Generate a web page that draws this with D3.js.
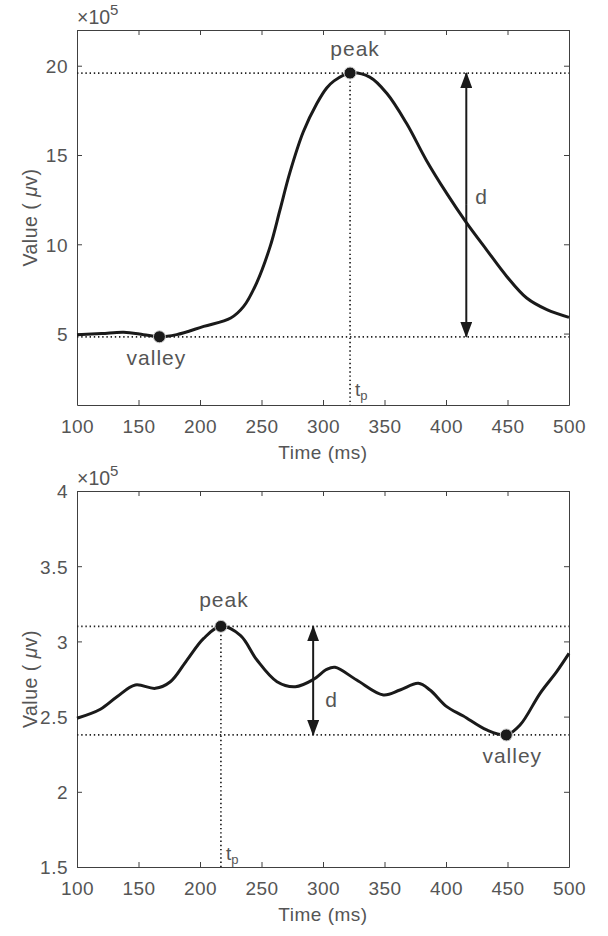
<!DOCTYPE html>
<html>
<head>
<meta charset="utf-8">
<script src="https://cdn.jsdelivr.net/npm/d3@7"></script>
<style>
  body { margin: 0; background: #fff; }
  svg text { font-family: "Liberation Sans", Arial, sans-serif; }
</style>
</head>
<body>
<div id="chart"></div>
<script>
// time axis ticks, shared by both panels
var timeTicks = [100, 150, 200, 250, 300, 350, 400, 450, 500];

// top panel (values in units of 1e5)
var topTime = [100, 120, 138, 154, 167, 181, 203, 225, 235.5, 246, 257, 265, 273, 284, 295, 303,
               309, 322, 338, 352, 368, 384, 400.6, 416, 433, 449.4, 465.6, 482, 500];
var topValue = [4.94, 5.0, 5.07, 4.94, 4.82, 4.94, 5.40, 5.87, 6.52, 7.83, 9.87, 11.92, 14.0, 16.3, 17.88, 18.75,
                19.15, 19.59, 19.36, 18.44, 16.76, 14.71, 12.85, 11.27, 9.69, 8.2, 6.99, 6.34, 5.91];
var topYTicks = [5, 10, 15, 20];

// bottom panel (values in units of 1e5)
var bottomTime = [100, 119, 132.5, 147.4, 163.7, 175.9, 189.4, 203, 217, 232.8, 246.3, 262.6, 277.5, 292.4,
                  303, 309.8, 327.4, 349.1, 362.6, 377.5, 387, 400.6, 414.1, 433.1, 449, 460.2, 476.5, 490, 500];
var bottomValue = [2.489, 2.549, 2.632, 2.71, 2.688, 2.732, 2.876, 3.02, 3.10, 3.04, 2.876, 2.732, 2.699, 2.748,
                   2.814, 2.828, 2.743, 2.644, 2.677, 2.721, 2.677, 2.566, 2.504, 2.411, 2.378, 2.444, 2.655, 2.799, 2.92];
var bottomYTicks = [1.5, 2, 2.5, 3, 3.5, 4];

var panels = [
  { time: topTime, value: topValue, yDomain: [1, 22], yTicks: topYTicks,
    top: 30, bottom: 405, peakIdx: 17, valleyIdx: 4, arrowT: 416.5,
    peakLabel: [5, -17], valleyLabel: [-3, 28], tpDy: -9, dPos: [481, 204] },
  { time: bottomTime, value: bottomValue, yDomain: [1.5, 4], yTicks: bottomYTicks,
    top: 491, bottom: 867, peakIdx: 8, valleyIdx: 24, arrowT: 292,
    peakLabel: [3, -19], valleyLabel: [6, 28], tpDy: -7, dPos: [331, 707] }
];

var width = 608, height = 936;
var left = 77, right = 569;
var axisColor = '#404040', textColor = '#555';

var svg = d3.select('#chart').append('svg')
    .attr('width', width)
    .attr('height', height);

// arrow head marker
var defs = svg.append('defs');
defs.append('marker')
    .attr('id', 'head')
    .attr('viewBox', '0 0 16 12')
    .attr('refX', 15).attr('refY', 6)
    .attr('markerWidth', 16).attr('markerHeight', 12)
    .attr('markerUnits', 'userSpaceOnUse')
    .attr('orient', 'auto')
  .append('path')
    .attr('d', 'M0,0 L16,6 L0,12 Z')
    .attr('fill', '#1a1a1a');

panels.forEach(function(p) { drawPanel(p); });

/**
 * draw one panel with its curve and annotations.
 */
function drawPanel(p) {

    var x = d3.scaleLinear().domain([100, 500]).range([left, right]);
    var y = d3.scaleLinear().domain(p.yDomain).range([p.bottom, p.top]);
    var g = svg.append('g');

    // axes: left/bottom with labels, top/right with ticks only
    var tickFmt = function(d) { return String(d); };
    var axB = g.append('g').attr('transform', 'translate(0,' + p.bottom + ')')
        .call(d3.axisBottom(x).tickValues(timeTicks).tickSizeInner(-5).tickSizeOuter(0).tickPadding(15).tickFormat(tickFmt));
    var axL = g.append('g').attr('transform', 'translate(' + left + ',0)')
        .call(d3.axisLeft(y).tickValues(p.yTicks).tickSizeInner(-5).tickSizeOuter(0).tickPadding(9).tickFormat(tickFmt));
    var axT = g.append('g').attr('transform', 'translate(0,' + p.top + ')')
        .call(d3.axisTop(x).tickValues(timeTicks).tickSizeInner(-5).tickSizeOuter(0).tickFormat(''));
    var axR = g.append('g').attr('transform', 'translate(' + right + ',0)')
        .call(d3.axisRight(y).tickValues(p.yTicks).tickSizeInner(-5).tickSizeOuter(0).tickFormat(''));
    [axB, axL, axT, axR].forEach(function(a) {
        a.selectAll('path, line').attr('stroke', axisColor).attr('stroke-width', 1);
        a.selectAll('text').attr('fill', textColor).attr('font-size', 19)
            .attr('letter-spacing', 0.5)
            .attr('font-family', '"Liberation Sans", Arial, sans-serif');
    });
    axL.selectAll('text').attr('dy', '0.36em');

    // exponent label
    var expo = g.append('text').attr('x', left).attr('y', p.top - 6)
        .attr('fill', textColor).attr('font-size', 19.5);
    expo.append('tspan').text('\u00d7');
    expo.append('tspan').text('10');
    expo.append('tspan').attr('dy', -9).attr('font-size', 15).text('5');

    // axis titles
    g.append('text').attr('x', (left + right) / 2).attr('y', p.bottom + 54)
        .attr('text-anchor', 'middle').attr('fill', textColor).attr('font-size', 19)
        .attr('letter-spacing', 0.5)
        .text('Time (ms)');
    var yl = g.append('text')
        .attr('transform', 'translate(37,' + (p.top + p.bottom) / 2 + ') rotate(-90)')
        .attr('text-anchor', 'middle').attr('fill', textColor).attr('font-size', 19.5)
        .attr('letter-spacing', 0.5);
    yl.append('tspan').text('Value ( ');
    yl.append('tspan').attr('font-style', 'italic').text('\u03bc');
    yl.append('tspan').text('v)');

    var peakT = p.time[p.peakIdx], peakV = p.value[p.peakIdx];
    var valT = p.time[p.valleyIdx], valV = p.value[p.valleyIdx];

    // dotted reference lines
    var dotted = function(sel) {
        sel.attr('stroke', '#222').attr('stroke-width', 1.7)
           .attr('stroke-dasharray', '1.4,2.8').attr('fill', 'none');
    };
    g.append('line').attr('x1', left).attr('x2', right)
        .attr('y1', y(peakV)).attr('y2', y(peakV)).call(dotted);
    g.append('line').attr('x1', left).attr('x2', right)
        .attr('y1', y(valV)).attr('y2', y(valV)).call(dotted);
    g.append('line').attr('x1', x(peakT)).attr('x2', x(peakT))
        .attr('y1', y(peakV)).attr('y2', p.bottom).call(dotted);

    // the curve
    var line = d3.line()
        .x(function(d, i) { return x(p.time[i]); })
        .y(function(d) { return y(d); })
        .curve(d3.curveCatmullRom.alpha(0.5));
    g.append('path').datum(p.value)
        .attr('d', line)
        .attr('fill', 'none')
        .attr('stroke', '#1a1a1a')
        .attr('stroke-width', 3)
        .attr('stroke-linejoin', 'round');

    // double arrow
    var mid = (y(peakV) + y(valV)) / 2;
    [y(peakV), y(valV)].forEach(function(end) {
        g.append('line')
            .attr('x1', x(p.arrowT)).attr('x2', x(p.arrowT))
            .attr('y1', mid).attr('y2', end)
            .attr('stroke', '#1a1a1a').attr('stroke-width', 2)
            .attr('marker-end', 'url(#head)');
    });

    // markers
    [[peakT, peakV], [valT, valV]].forEach(function(d) {
        g.append('circle').attr('cx', x(d[0])).attr('cy', y(d[1])).attr('r', 6)
            .attr('fill', '#1a1a1a').attr('stroke', '#ccc').attr('stroke-width', 1);
    });

    // labels
    g.append('text').attr('x', x(peakT) + p.peakLabel[0]).attr('y', y(peakV) + p.peakLabel[1])
        .attr('text-anchor', 'middle').attr('fill', textColor).attr('font-size', 21)
        .attr('letter-spacing', 1)
        .text('peak');
    g.append('text').attr('x', x(valT) + p.valleyLabel[0]).attr('y', y(valV) + p.valleyLabel[1])
        .attr('text-anchor', 'middle').attr('fill', textColor).attr('font-size', 21)
        .attr('letter-spacing', 1)
        .text('valley');
    g.append('text').attr('x', p.dPos[0]).attr('y', p.dPos[1])
        .attr('text-anchor', 'middle').attr('fill', textColor).attr('font-size', 21)
        .text('d');
    var tp = g.append('text').attr('x', x(peakT) + 5).attr('y', p.bottom + p.tpDy)
        .attr('fill', textColor).attr('font-size', 19);
    tp.append('tspan').text('t');
    tp.append('tspan').attr('dy', 4).attr('font-size', 13).text('p');
}
</script>
</body>
</html>
